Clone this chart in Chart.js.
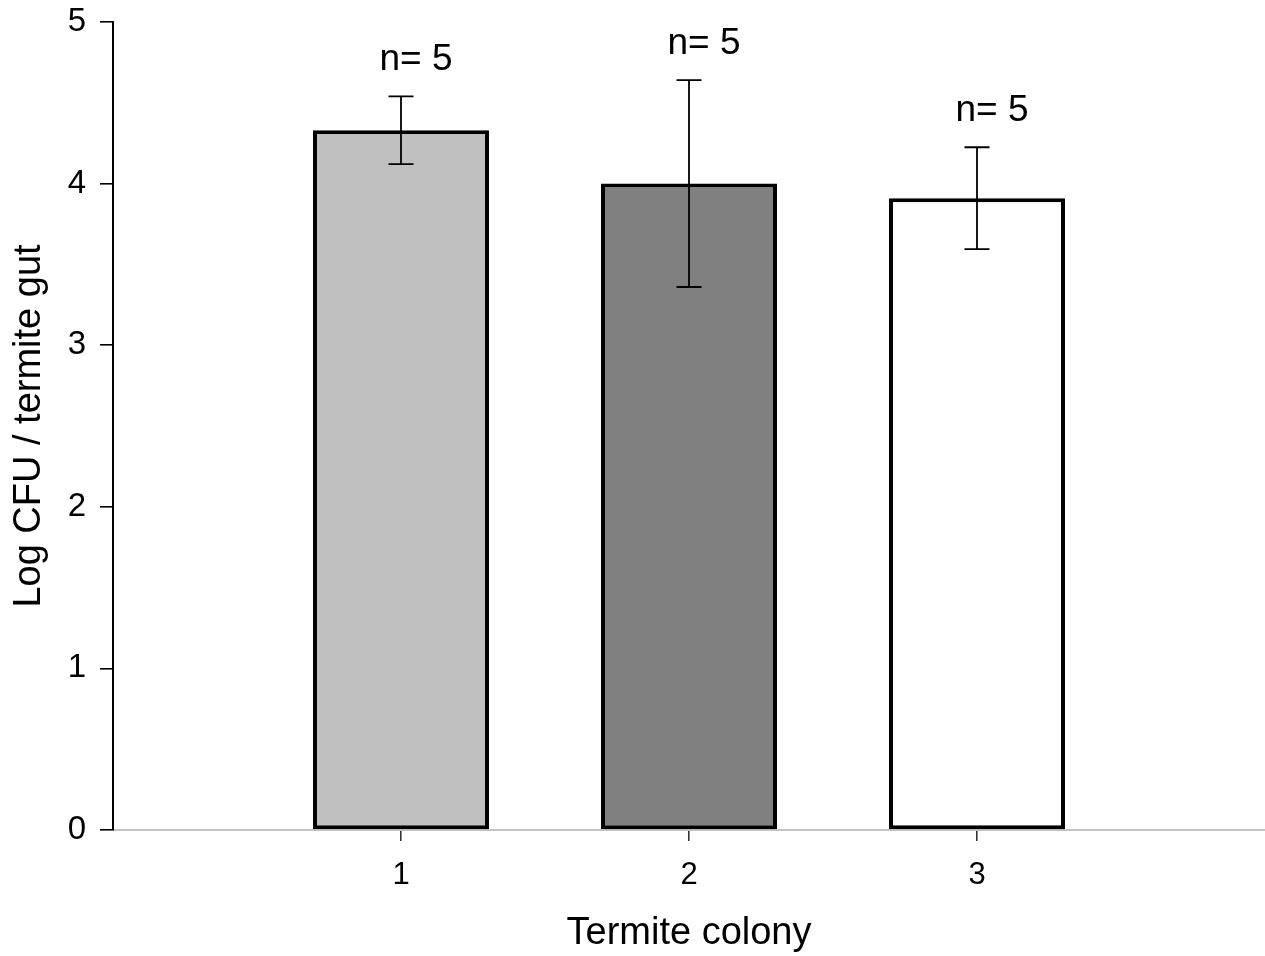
<!DOCTYPE html>
<html>
<head>
<meta charset="utf-8">
<title>Log CFU per termite gut by colony</title>
<script src="https://cdn.jsdelivr.net/npm/chart.js@4.4.1/dist/chart.umd.min.js"></script>
<style>
  html, body { margin: 0; padding: 0; background: #ffffff; }
  #wrap { width: 1265px; height: 956px; position: relative; }
</style>
</head>
<body>
<div id="wrap"><canvas id="chart" width="1265" height="956"></canvas></div>
<script>
// Colony means (log CFU per gut), their error half-widths and sample sizes
const colonies = [1, 2, 3];
const colonyTickLabels = ['1', '2', '3'];
const meanLogCfu = [4.33, 4.00, 3.91];
const errLogCfu = [0.21, 0.64, 0.315];
const sampleLabels = ['n= 5', 'n= 5', 'n= 5'];
const yTickValues = [0, 1, 2, 3, 4, 5];

const FONT = '"Liberation Sans", Arial, Helvetica, sans-serif';
const barFills = ['#c0c0c0', '#808080', '#ffffff'];

// Whiskers and sample-size captions above each bar
const errorBarPlugin = {
  id: 'errorBars',
  afterDatasetsDraw(chart) {
    const { ctx, scales: { x, y } } = chart;
    ctx.save();
    ctx.strokeStyle = '#000';
    ctx.lineWidth = 1.8;
    const cap = 12.5;
    colonies.forEach((c, i) => {
      const px = x.getPixelForValue(c);
      const top = y.getPixelForValue(meanLogCfu[i] + errLogCfu[i]);
      const bot = y.getPixelForValue(meanLogCfu[i] - errLogCfu[i]);
      ctx.beginPath();
      ctx.moveTo(px, top); ctx.lineTo(px, bot);
      ctx.moveTo(px - cap, top); ctx.lineTo(px + cap, top);
      ctx.moveTo(px - cap, bot); ctx.lineTo(px + cap, bot);
      ctx.stroke();

      ctx.fillStyle = '#000';
      ctx.font = '37px ' + FONT;
      ctx.textAlign = 'center';
      ctx.textBaseline = 'alphabetic';
      ctx.fillText(sampleLabels[i], px + 15, top - 26);
    });
    ctx.restore();
  }
};

new Chart(document.getElementById('chart'), {
  type: 'bar',
  data: {
    datasets: [{
      data: colonies.map((c, i) => ({ x: c, y: meanLogCfu[i] })),
      backgroundColor: barFills,
      borderColor: '#000',
      borderWidth: 4,
      borderSkipped: false,
      barPercentage: 0.611,
      categoryPercentage: 1.0
    }]
  },
  options: {
    responsive: false,
    animation: false,
    layout: { padding: { top: 22, right: 0, bottom: 0, left: 0 } },
    plugins: {
      legend: { display: false },
      tooltip: { enabled: false }
    },
    scales: {
      x: {
        type: 'linear',
        min: 0,
        max: 4,
        offset: false,
        afterBuildTicks(scale) {
          scale.ticks = colonies.map(v => ({ value: v }));
        },
        afterFit(scale) {
          scale.height = 126;
          scale.paddingLeft = 0;
          scale.paddingRight = 0;
        },
        ticks: {
          callback: (v) => colonyTickLabels[colonies.indexOf(v)] ?? '',
          color: '#000',
          font: { family: FONT, size: 31 },
          padding: 16,
          maxRotation: 0
        },
        grid: {
          offset: false,
          drawOnChartArea: false,
          drawTicks: true,
          tickLength: 11,
          color: '#333',
          lineWidth: 1.6
        },
        border: { display: true, color: '#c4c4c4', width: 2 },
        title: {
          display: true,
          text: 'Termite colony',
          color: '#000',
          font: { family: FONT, size: 38 },
          padding: { top: 0, bottom: 0 }
        }
      },
      y: {
        type: 'linear',
        min: 0,
        max: 5,
        afterBuildTicks(scale) {
          scale.ticks = yTickValues.map(v => ({ value: v }));
        },
        afterFit(scale) {
          scale.width = 113;
          scale.paddingTop = 0;
          scale.paddingBottom = 0;
        },
        ticks: {
          color: '#000',
          font: { family: FONT, size: 33 },
          padding: 14
        },
        grid: {
          drawOnChartArea: false,
          drawTicks: true,
          tickLength: 13,
          color: '#000',
          lineWidth: 1.6
        },
        border: { display: true, color: '#000', width: 2 },
        title: {
          display: true,
          text: 'Log CFU / termite gut',
          color: '#000',
          font: { family: FONT, size: 38 },
          padding: { top: 7, bottom: 0 }
        }
      }
    }
  },
  plugins: [errorBarPlugin]
});
</script>
</body>
</html>
